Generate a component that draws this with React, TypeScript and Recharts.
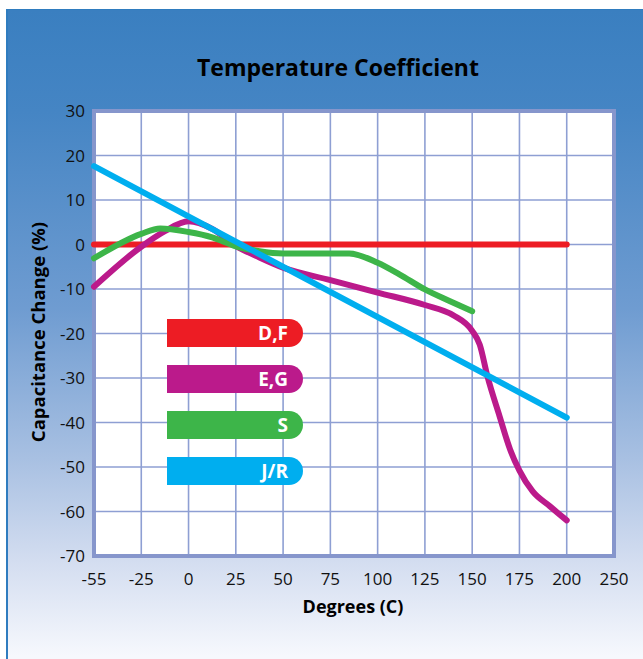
import { LineChart, Line, XAxis, YAxis, CartesianGrid, ReferenceArea, Legend } from "recharts";

// x axis is not linear: every tick is one grid step, whatever its degree value
const TICK_DEGREES = [-55, -25, 0, 25, 50, 75, 100, 125, 150, 175, 200, 250];
const TICK_LABELS = ["-55", "-25", "0", "25", "50", "75", "100", "125", "150", "175", "200", "250"];
const Y_TICKS = [-70, -60, -50, -40, -30, -20, -10, 0, 10, 20, 30];

const SERIES_NAMES = ["D,F", "E,G", "S", "J/R"];
const SERIES_COLORS = ["#ed1c24", "#bb1a8b", "#3db549", "#00aeef"];

const DF_TEMPS = [-55, 200];
const DF_CHANGE = [0, 0];

const EG_TEMPS = [-55, -25, -12.5, 0, 12.5, 25, 37.5, 50, 75, 100, 125, 140, 150, 154, 158, 164.5, 170, 175, 182, 191, 200];
const EG_CHANGE = [-9.5, -0.5, 3, 5.2, 3.5, -0.3, -2.9, -5.2, -8, -10.8, -13.6, -15.9, -19.4, -22.5, -29.5, -38.6, -46, -50.8, -55.5, -58.8, -62];

const S_TEMPS = [-55, -25, -15, 0, 12.5, 25, 37.5, 50, 75, 85, 100, 111.5, 125, 138, 150];
const S_CHANGE = [-3.1, 2.4, 3.6, 2.8, 1.6, -0.4, -1.5, -2, -2, -2, -4.1, -6.7, -10.1, -12.7, -15];

const JR_TEMPS = [-55, 200];
const JR_CHANGE = [17.6, -38.9];

function toPos(deg: number) {
  for (let i = 0; i < TICK_DEGREES.length - 1; i++) {
    const a = TICK_DEGREES[i];
    const b = TICK_DEGREES[i + 1];
    if (deg <= b) return i + (deg - a) / (b - a);
  }
  return TICK_DEGREES.length - 1;
}

const build = (temps: number[], vals: number[]) => temps.map((t, i) => ({ pos: toPos(t), change: vals[i] }));

const SERIES = [
  build(DF_TEMPS, DF_CHANGE),
  build(EG_TEMPS, EG_CHANGE),
  build(S_TEMPS, S_CHANGE),
  build(JR_TEMPS, JR_CHANGE),
];

const FONT = '"Open Sans", "Noto Sans", sans-serif';

function LegendBoxes({ payload }: any) {
  const items = [...(payload || [])].sort((a: any, b: any) => SERIES_NAMES.indexOf(a.value) - SERIES_NAMES.indexOf(b.value));
  return (
    <div>
      {items.map((p: any) => (
        <div
          key={p.value}
          style={{
            width: 136, height: 28, marginBottom: 18, background: p.color, color: "#fff",
            borderRadius: "0 14px 14px 0", textAlign: "right", paddingRight: 15, boxSizing: "border-box",
            fontFamily: FONT, fontWeight: 700, fontSize: 19, lineHeight: "28px",
          }}
        >
          {p.value}
        </div>
      ))}
    </div>
  );
}

export default function App() {
  return (
    <div style={{ position: "absolute", left: 0, top: 0, width: 643, height: 659, background: "#fff", overflow: "hidden", fontFamily: FONT }}>
      <div
        style={{
          position: "absolute", left: 6, top: 9, width: 680, height: 680,
          borderLeft: "2px solid #2f7cbf", borderTop: "1px solid #2f7cbf",
          background: "linear-gradient(180deg, #3a7fc0 0%, #4585c4 15%, #6f9cd1 44%, #a8c0e2 66%, #d3ddf0 81%, #f6f8fd 95%)",
        }}
      />
      <div style={{ position: "absolute", left: 338, top: 53, transform: "translateX(-50%)", whiteSpace: "nowrap", fontSize: 23, fontWeight: 700, lineHeight: "28px", color: "#000" }}>
        Temperature Coefficient
      </div>
      <div style={{ position: "absolute", left: 0, top: 0 }}>
        <LineChart width={643} height={659} margin={{ top: 111, right: 29, bottom: 63, left: 0 }}>
          <CartesianGrid stroke="#8e9fd3" strokeWidth={1.6} fill="#fff" />
          <XAxis
            type="number" dataKey="pos" domain={[0, 11]} ticks={TICK_LABELS.map((_, i) => i)}
            tickFormatter={(v: number) => TICK_LABELS[v]} axisLine={false} tickLine={false}
            tickSize={0} tickMargin={17} height={40} interval={0}
            tick={{ fill: "#111", fontSize: 17, fontFamily: FONT }}
          />
          <YAxis
            type="number" domain={[-70, 30]} ticks={Y_TICKS} axisLine={false} tickLine={false}
            tickSize={0} tickMargin={9} width={94} interval={0}
            tick={{ fill: "#111", fontSize: 17, fontFamily: FONT }}
          />
          <ReferenceArea x1={0} x2={11} y1={-70} y2={30} fill="none" stroke="#8696cc" strokeWidth={4} ifOverflow="visible" />
          {SERIES.map((data, i) => (
            <Line
              key={SERIES_NAMES[i]} data={data} dataKey="change" name={SERIES_NAMES[i]} type="monotone"
              stroke={SERIES_COLORS[i]} strokeWidth={6} strokeLinecap="round" dot={false} activeDot={false}
              isAnimationActive={false}
            />
          ))}
          <Legend
            layout="vertical" align="center" verticalAlign="middle" content={<LegendBoxes />}
            wrapperStyle={{ left: 167, top: 319, width: 140, height: "auto" }}
          />
        </LineChart>
      </div>
      <div style={{ position: "absolute", left: 37, top: 332, transform: "translate(-50%, -50%) rotate(-90deg)", whiteSpace: "nowrap", fontSize: 18.5, fontWeight: 700, color: "#000" }}>
        Capacitance Change (%)
      </div>
      <div style={{ position: "absolute", left: 353, top: 606, transform: "translate(-50%, -50%)", whiteSpace: "nowrap", fontSize: 18, fontWeight: 700, color: "#000" }}>
        Degrees (C)
      </div>
    </div>
  );
}
